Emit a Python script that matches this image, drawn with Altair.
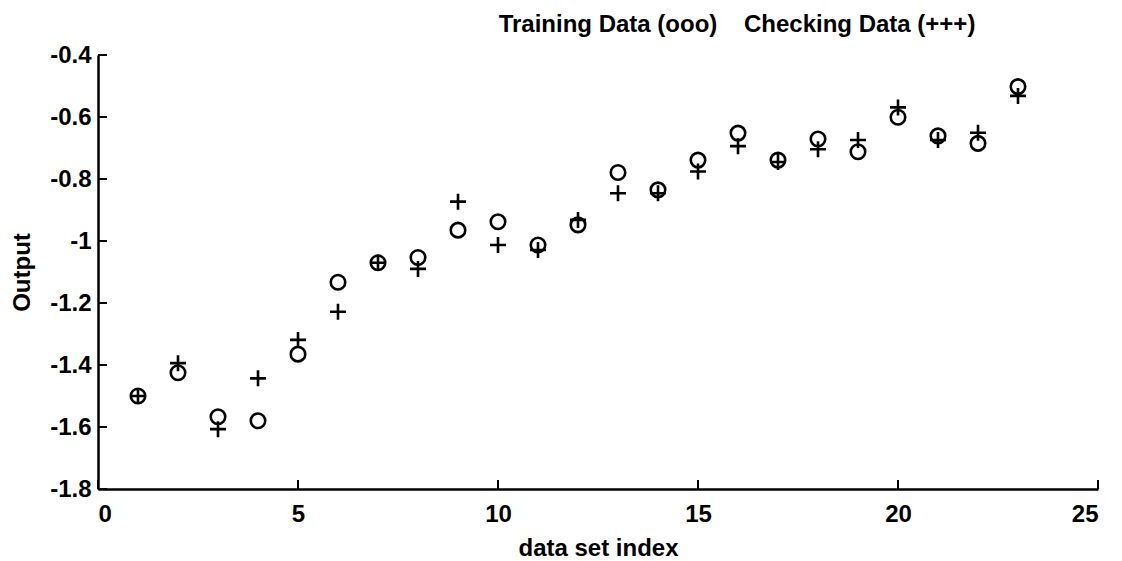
import altair as alt
import pandas as pd

# ---- data ----
index = list(range(1, 24))
training = [-1.50, -1.425, -1.567, -1.580, -1.365, -1.133, -1.070, -1.053,
            -0.965, -0.938, -1.013, -0.948, -0.779, -0.835, -0.739, -0.652,
            -0.739, -0.671, -0.712, -0.601, -0.661, -0.685, -0.502]
checking = [-1.50, -1.394, -1.607, -1.443, -1.319, -1.228, -1.070, -1.090,
            -0.873, -1.013, -1.029, -0.932, -0.846, -0.846, -0.776, -0.694,
            -0.745, -0.704, -0.674, -0.569, -0.674, -0.651, -0.532]
x_ticks = [0, 5, 10, 15, 20, 25]
y_ticks = [-1.8, -1.6, -1.4, -1.2, -1.0, -0.8, -0.6, -0.4]

df = pd.DataFrame({"idx": index, "train": training, "check": checking})
xt = pd.DataFrame({"v": x_ticks})
yt = pd.DataFrame({"v": y_ticks})

FONT = "Liberation Sans"
W, H = 1000, 434
TICK = 9

xscale = alt.Scale(domain=[0, 25], nice=False, zero=False)
yscale = alt.Scale(domain=[-1.8, -0.4], nice=False, zero=False)

xaxis = alt.Axis(values=x_ticks, ticks=False, tickSize=0, grid=False,
                 domainColor="black", domainWidth=2.5,
                 labelFont=FONT, labelFontSize=24, labelFontWeight="bold",
                 labelColor="black", labelPadding=13,
                 title="data set index", titleFont=FONT, titleFontSize=24,
                 titleFontWeight="bold", titleColor="black",
                 titleX=W / 2, titleY=66, titleBaseline="alphabetic",
                 titleAlign="center")
yaxis = alt.Axis(values=y_ticks, ticks=False, tickSize=0, grid=False,
                 domainColor="black", domainWidth=2.5,
                 labelFont=FONT, labelFontSize=24, labelFontWeight="bold",
                 labelColor="black", labelPadding=7,
                 labelExpr="replace(format(datum.value, '~g'), '\u2212', '-')",
                 title="Output", titleFont=FONT, titleFontSize=24,
                 titleFontWeight="bold", titleColor="black",
                 titleX=-76, titleY=H / 2, titleAngle=270,
                 titleBaseline="middle", titleAlign="center")

base = alt.Chart(df)

circles = base.mark_point(shape="circle", filled=False, size=210,
                          strokeWidth=2.6, color="black", opacity=1).encode(
    x=alt.X("idx:Q", scale=xscale, axis=xaxis),
    y=alt.Y("train:Q", scale=yscale, axis=yaxis),
)
pluses = base.mark_point(shape="M-1,0H1M0,-1V1", filled=False, size=256,
                         strokeWidth=2.6, color="black", opacity=1).encode(
    x=alt.X("idx:Q", scale=xscale),
    y=alt.Y("check:Q", scale=yscale),
)

xticks = alt.Chart(xt).mark_rule(color="black", strokeWidth=2).encode(
    x=alt.X("v:Q", scale=xscale),
    y=alt.value(H), y2=alt.value(H - TICK),
)
yticks = alt.Chart(yt).mark_rule(color="black", strokeWidth=2).encode(
    y=alt.Y("v:Q", scale=yscale),
    x=alt.value(0), x2=alt.value(TICK),
)

NB = "\u00a0"
title_text = "Training Data (ooo)" + NB * 4 + "Checking Data (+++)"

chart = alt.layer(xticks, yticks, circles, pluses).properties(
    width=W, height=H,
    background="white",
    autosize=alt.AutoSizeParams(type="none"),
    padding={"left": 98, "top": 55, "right": 24, "bottom": 72},
    title=alt.TitleParams(
        text=title_text,
        font=FONT, fontSize=24, fontWeight="bold", color="black",
        anchor="middle", dx=139, offset=6),
).configure_view(strokeWidth=0, stroke="transparent")

chart.save("out.html", embed_options={"renderer": "svg", "actions": False})
